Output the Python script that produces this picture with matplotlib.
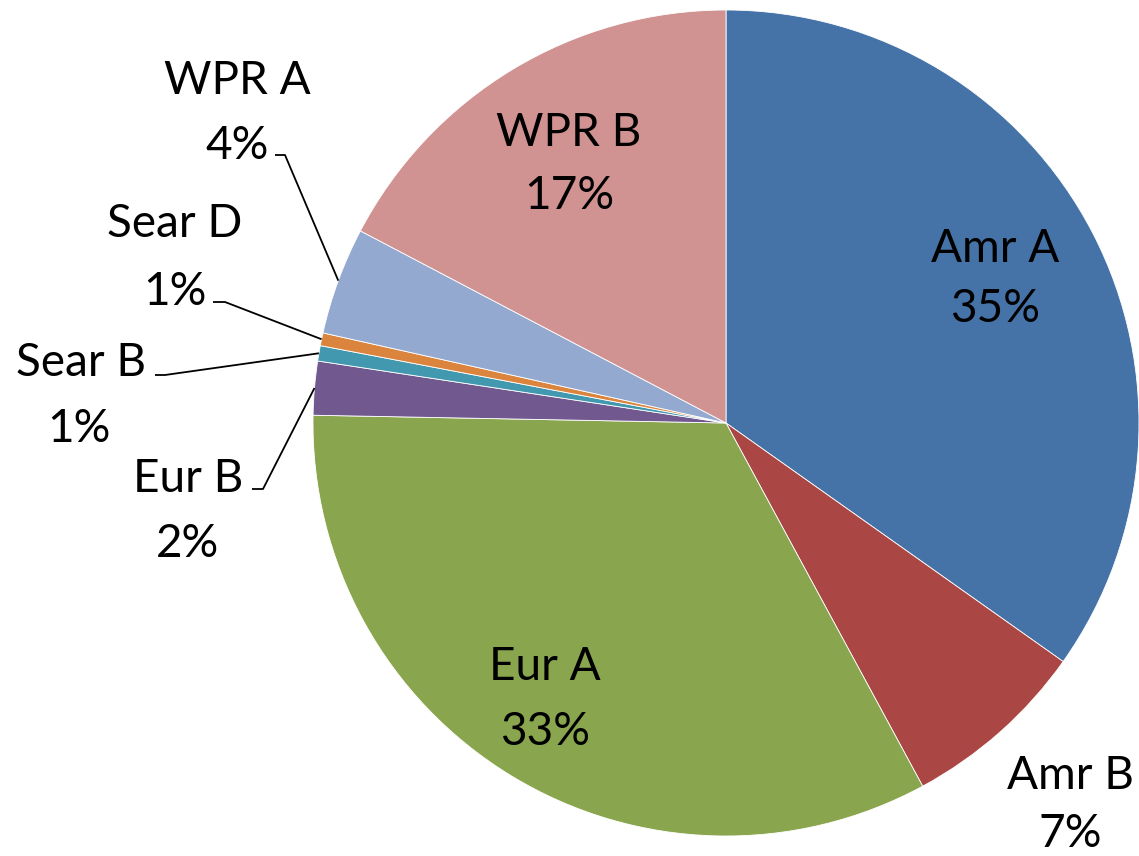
import matplotlib
matplotlib.use('Agg')
import numpy as np
import matplotlib.pyplot as plt

# Datos, en el sentido de las agujas del reloj desde las 12
regiones = ["Amr A", "Amr B", "Eur A", "Eur B", "Sear B", "Sear D", "WPR A", "WPR B"]
valores = [34.8, 7.3, 33.2, 2.1, 0.6, 0.5, 4.2, 17.3]
etiquetas_pct = ["35%", "7%", "33%", "2%", "1%", "1%", "4%", "17%"]
colores = ["#4572A7", "#AA4643", "#89A54E", "#71588F",
           "#4198AF", "#DB843D", "#93A9CF", "#D19392"]

# Geometría en píxeles de la imagen original
W, H = 1139, 856
CX, CY, R = 726, 423, 413


def px(x, y):
    """Convierte píxeles (origen arriba-izquierda) a coordenadas del pastel."""
    return (x - CX) / R, (CY - y) / R


# Posición de las líneas base del nombre y del porcentaje
pos_nombre = {
    "Amr A": (995, 262), "Amr B": (1070, 789), "Eur A": (545, 680),
    "Eur B": (188, 492), "Sear B": (81, 376), "Sear D": (175, 237),
    "WPR A": (237, 94), "WPR B": (569, 146),
}
pos_pct = {
    "Amr A": (995, 322), "Amr B": (1070, 847), "Eur A": (545, 745),
    "Eur B": (188, 557), "Sear B": (79, 442), "Sear D": (175, 305),
    "WPR A": (237, 159), "WPR B": (569, 209),
}
# Líneas guía: inicio del tramo horizontal y su fin
guias = {
    "WPR A": ((275, 155), (285, 155)),
    "Sear D": ((213, 302), (225, 302)),
    "Sear B": ((155, 375), (165, 375)),
    "Eur B": ((252, 489), (263, 489)),
}

plt.rcParams['font.family'] = ['Lato', 'DejaVu Sans']

fig = plt.figure(figsize=(W / 100, H / 100), dpi=100)
ax = fig.add_axes([0, 0, 1, 1])

wedges, _ = ax.pie(valores, colors=colores, startangle=90, counterclock=False,
                   radius=1, wedgeprops=dict(edgecolor="white", linewidth=0.6))

x0, y1 = px(0, 0)
x1, y0 = px(W, H)
ax.set_xlim(x0, x1)
ax.set_ylim(y0, y1)
ax.set_aspect('auto')
ax.axis('off')

for nombre, pct, w in zip(regiones, etiquetas_pct, wedges):
    ax.text(*px(*pos_nombre[nombre]), nombre, ha='center', va='baseline',
            fontsize=33, color='black')
    ax.text(*px(*pos_pct[nombre]), pct, ha='center', va='baseline',
            fontsize=33, color='black')
    if nombre in guias:
        ang = np.deg2rad((w.theta1 + w.theta2) / 2)
        (a, b), (c, d) = guias[nombre]
        xa, ya = px(a, b)
        xc, yc = px(c, d)
        ax.plot([xa, xc, np.cos(ang)], [ya, yc, np.sin(ang)],
                color='black', lw=1.3, solid_capstyle='butt')

fig.savefig("out.png", dpi=100)
